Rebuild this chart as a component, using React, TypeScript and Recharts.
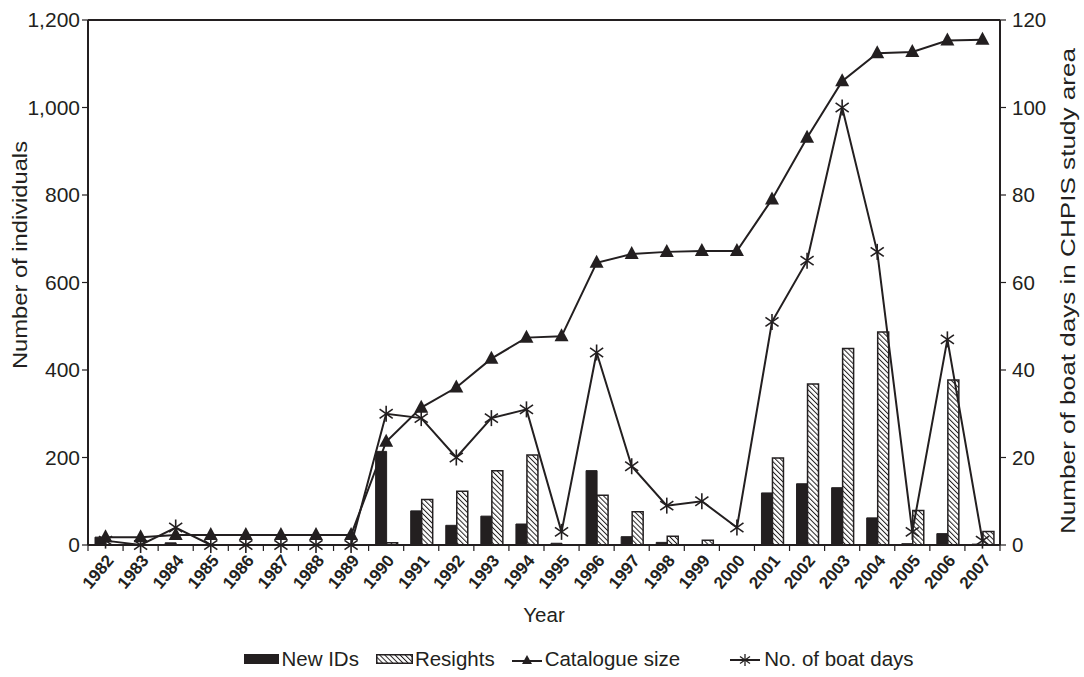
import React from 'react';
import { ComposedChart, Bar, Line, XAxis, YAxis, ReferenceLine, Legend } from 'recharts';

const years = [
  '1982', '1983', '1984', '1985', '1986', '1987', '1988', '1989', '1990', '1991', '1992', '1993', '1994',
  '1995', '1996', '1997', '1998', '1999', '2000', '2001', '2002', '2003', '2004', '2005', '2006', '2007',
];
const newIds = [18, 0, 5, 0, 0, 0, 0, 0, 214, 78, 45, 66, 48, 4, 170, 19, 6, 1, 0, 119, 140, 131, 62, 3, 26, 2];
const resights = [0, 0, 0, 0, 0, 0, 0, 0, 5, 104, 123, 170, 206, 0, 114, 76, 20, 11, 0, 199, 368, 449, 487, 79, 377, 31];
const catalogueSize = [
  18, 18, 23, 23, 23, 23, 23, 23, 236, 314, 360, 426, 474, 477, 645, 665, 670, 672, 672, 790, 931, 1060, 1124, 1127,
  1153, 1155,
];
const boatDays = [1, 0, 4, 0, 0, 0, 0, 0, 30, 29, 20, 29, 31, 3, 44, 18, 9, 10, 4, 51, 65, 100, 67, 3, 47, 1];
const leftTicks = [0, 200, 400, 600, 800, 1000, 1200];
const rightTicks = [0, 20, 40, 60, 80, 100, 120];

const data = years.map((year, i) => ({
  year,
  newIds: newIds[i],
  resights: resights[i],
  catalogue: catalogueSize[i],
  boatDays: boatDays[i],
}));

const INK = '#231f20';
const W = 1084;
const H = 677;
const PLOT_LEFT = 88;
const PLOT_RIGHT = 1000;
const band = (PLOT_RIGHT - PLOT_LEFT) / years.length;

const TriangleDot = (props: any) => {
  const { cx, cy } = props;
  if (cx == null || cy == null) return null;
  return <polygon points={`${cx},${cy - 8} ${cx - 7},${cy + 5} ${cx + 7},${cy + 5}`} fill={INK} />;
};

const StarDot = (props: any) => {
  const { cx, cy } = props;
  if (cx == null || cy == null) return null;
  const r = 8;
  const dx = r * Math.sin((55 * Math.PI) / 180);
  const dy = r * Math.cos((55 * Math.PI) / 180);
  return (
    <g stroke={INK} strokeWidth={1.6}>
      <line x1={cx} y1={cy - r} x2={cx} y2={cy + r} />
      <line x1={cx - dx} y1={cy - dy} x2={cx + dx} y2={cy + dy} />
      <line x1={cx - dx} y1={cy + dy} x2={cx + dx} y2={cy - dy} />
    </g>
  );
};

// year labels: slanted, bold, ending just right of the category centre
const YearTick = (props: any) => {
  const { x, y, payload, index } = props;
  const axisY = y - 8;
  const tx = x + 9;
  const ty = axisY + 16;
  return (
    <g>
      <line x1={x - band / 2} x2={x - band / 2} y1={axisY - 1} y2={axisY + 6} stroke={INK} strokeWidth={1.2} />
      {index === years.length - 1 && (
        <line x1={x + band / 2} x2={x + band / 2} y1={axisY - 1} y2={axisY + 6} stroke={INK} strokeWidth={1.2} />
      )}
      <g transform={`translate(${tx} ${ty}) rotate(-50)`}>
        <text x={0} y={0} textAnchor="end" fontSize={17} fontWeight="bold" fill={INK}>
          {payload.value}
        </text>
      </g>
    </g>
  );
};

const renderLegend = () => (
  <div
    style={{
      height: 24,
      display: 'flex',
      alignItems: 'center',
      justifyContent: 'center',
      paddingLeft: 80,
      fontSize: 20.5,
      color: INK,
      whiteSpace: 'nowrap',
    }}
  >
    <svg width={35} height={14} style={{ marginRight: 2 }}>
      <rect x={0} y={2} width={35} height={10} fill={INK} />
    </svg>
    <span style={{ marginRight: 17 }}>New IDs</span>
    <svg width={37} height={14} style={{ marginRight: 2 }}>
      <rect x={0.75} y={2.75} width={35.5} height={8.5} fill="url(#hatch)" stroke={INK} strokeWidth={1.5} />
    </svg>
    <span style={{ marginRight: 17 }}>Resights</span>
    <svg width={30} height={16} style={{ marginRight: 3 }}>
      <line x1={0} y1={10} x2={30} y2={10} stroke={INK} strokeWidth={2} />
      <polygon points="15,4 10,13 20,13" fill={INK} />
    </svg>
    <span style={{ marginRight: 50 }}>Catalogue size</span>
    <svg width={30} height={16} style={{ marginRight: 4 }}>
      <line x1={0} y1={9} x2={30} y2={9} stroke={INK} strokeWidth={2} />
      <g stroke={INK} strokeWidth={1.3}>
        <line x1={15} y1={3} x2={15} y2={15} />
        <line x1={10} y1={5.5} x2={20} y2={12.5} />
        <line x1={10} y1={12.5} x2={20} y2={5.5} />
      </g>
    </svg>
    <span>No. of boat days</span>
  </div>
);

export default function App() {
  return (
    <div style={{ position: 'absolute', left: 0, top: 0, fontFamily: '"Liberation Sans", Arial, sans-serif' }}>
      <ComposedChart
        width={W}
        height={H}
        data={data}
        margin={{ top: 20, left: 18, right: 24, bottom: 6 }}
        barGap={0}
        barCategoryGap={0}
      >
        <defs>
          <pattern id="hatch" patternUnits="userSpaceOnUse" width={3.6} height={3.6} patternTransform="rotate(-45)">
            <rect width={3.6} height={3.6} fill="#fff" />
            <line x1={0} y1={0} x2={0} y2={3.6} stroke={INK} strokeWidth={2} />
          </pattern>
        </defs>
        <XAxis
          dataKey="year"
          height={102}
          interval={0}
          tickLine={false}
          tickSize={6}
          tickMargin={2}
          axisLine={{ stroke: INK, strokeWidth: 2 }}
          tick={<YearTick />}
          label={{ value: 'Year', position: 'insideBottom', offset: 25, fill: INK, fontSize: 20.5 }}
        />
        <YAxis
          yAxisId="left"
          width={70}
          domain={[0, 1200]}
          ticks={leftTicks}
          tickFormatter={(v) => v.toLocaleString('en-US')}
          axisLine={{ stroke: INK, strokeWidth: 2 }}
          tickLine={{ stroke: INK, strokeWidth: 1.2 }}
          tickSize={6}
          tickMargin={2}
          tick={{ fill: INK, fontSize: 21 }}
          label={() => (
            <text
              x={20}
              y={255}
              transform="rotate(-90, 20, 255)"
              textAnchor="middle"
              dominantBaseline="central"
              fontSize={20}
              fill={INK}
              textLength={228}
              lengthAdjust="spacingAndGlyphs"
            >
              Number of individuals
            </text>
          )}
        />
        <YAxis
          yAxisId="right"
          orientation="right"
          width={60}
          domain={[0, 120]}
          ticks={rightTicks}
          axisLine={{ stroke: INK, strokeWidth: 2 }}
          tickLine={{ stroke: INK, strokeWidth: 1.2 }}
          tickSize={6}
          tickMargin={6}
          tick={{ fill: INK, fontSize: 20.5 }}
          label={() => (
            <text
              x={1068}
              y={291}
              transform="rotate(-90, 1068, 291)"
              textAnchor="middle"
              dominantBaseline="central"
              fontSize={20}
              fill={INK}
              textLength={486}
              lengthAdjust="spacingAndGlyphs"
            >
              Number of boat days in CHPIS study area
            </text>
          )}
        />
        <ReferenceLine yAxisId="left" y={1200} stroke={INK} strokeWidth={2} />
        <Bar yAxisId="left" dataKey="newIds" name="New IDs" fill={INK} stroke={INK} strokeWidth={1} barSize={11} isAnimationActive={false} />
        <Bar
          yAxisId="left"
          dataKey="resights"
          name="Resights"
          fill="url(#hatch)"
          stroke={INK}
          strokeWidth={1.5}
          barSize={11}
          isAnimationActive={false}
        />
        <Line
          yAxisId="left"
          dataKey="catalogue"
          name="Catalogue size"
          stroke={INK}
          strokeWidth={2}
          dot={<TriangleDot />}
          activeDot={false}
          isAnimationActive={false}
        />
        <Line
          yAxisId="right"
          dataKey="boatDays"
          name="No. of boat days"
          stroke={INK}
          strokeWidth={2}
          dot={<StarDot />}
          activeDot={false}
          isAnimationActive={false}
        />
        <Legend verticalAlign="bottom" content={renderLegend} />
      </ComposedChart>
    </div>
  );
}
